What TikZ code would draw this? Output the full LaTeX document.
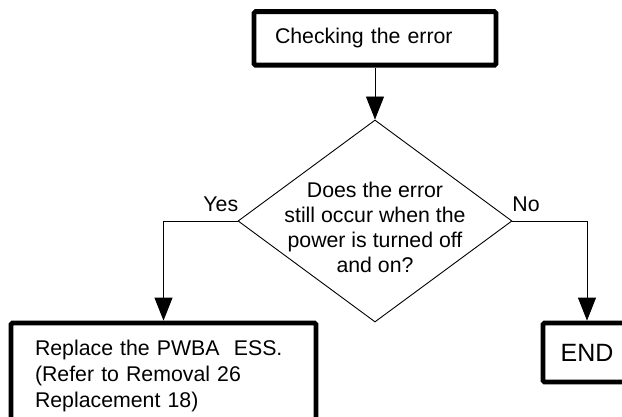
\documentclass[tikz,border=0pt]{standalone}
\usepackage{fontspec}
\setmainfont{Liberation Sans}
\usetikzlibrary{arrows.meta,shapes.geometric}
\begin{document}
\begin{tikzpicture}[x=1pt,y=-1pt,
  every node/.style={font=\fontsize{21.3}{25}\selectfont},
  box/.style={draw=black, line width=4.8pt, rounded corners=1.5pt, inner sep=0pt, align=left},
  conn/.style={draw=black, line width=0.9pt, -{Triangle[width=18pt,length=23pt]}},
  decision/.style={diamond, draw=black, line width=0.9pt, minimum width=274pt, minimum height=202pt, inner sep=0pt},
  lbl/.style={inner sep=0pt}]
\useasboundingbox (0,0) rectangle (622,417);
\clip (0,0) rectangle (622,417);

\node[box, minimum width=242pt, minimum height=53.5pt, text width=200pt] (chk) at (375,38.4) {Checking the error};
\node[decision] (q) at (375,221) {};
\node[align=center, inner sep=0pt] (qt) at (375,227) {Does the error\\still occur when the\\power is turned off\\and on?};
\node[box, minimum width=305pt, minimum height=105pt, text width=257pt,
      font=\fontsize{21.3}{26}\selectfont] (rep) at (163.5,375.5)
  {Replace the PWBA\ \ ESS.\\(Refer to Removal 26\\Replacement 18)};
\node[box, minimum width=88pt, minimum height=59pt, align=center,
      font=\fontsize{25}{28}\selectfont] (endbox) at (587,352.5) {END};

\node[lbl] (yes) at (220.8,204) {Yes};
\node[lbl] (no) at (526,204) {No};

\draw[conn] (chk.south) -- (q.north);
\draw[conn] (q.west) -| (rep.north);
\draw[conn] (q.east) -| (endbox.north);
\end{tikzpicture}
\end{document}
